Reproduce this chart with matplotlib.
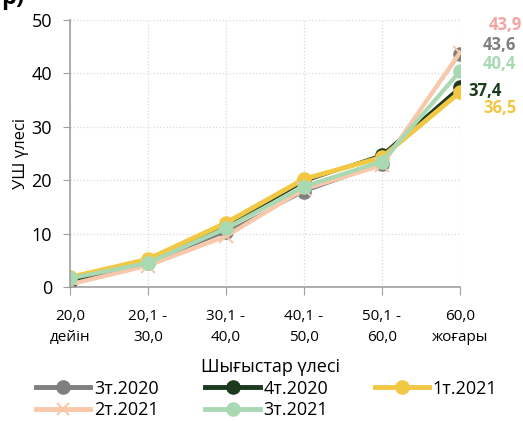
import matplotlib.pyplot as plt
from matplotlib.lines import Line2D

plt.rcParams['font.family'] = ['Open Sans', 'DejaVu Sans']

categories = ['20,0\nдейін', '20,1 -\n30,0', '30,1 -\n40,0', '40,1 -\n50,0', '50,1 -\n60,0', '60,0\nжоғары']
s_3q2020 = [1.0, 4.5, 10.3, 17.8, 23.0, 43.6]
s_4q2020 = [1.2, 5.0, 11.5, 19.8, 24.7, 37.4]
s_1q2021 = [1.8, 5.2, 12.0, 20.2, 24.3, 36.5]
s_2q2021 = [0.5, 4.0, 9.5, 18.3, 22.8, 43.9]
s_3q2021 = [1.6, 4.5, 11.0, 18.8, 23.5, 40.4]
names = ['3т.2020', '4т.2020', '1т.2021', '2т.2021', '3т.2021']
last_labels = ['43,6', '37,4', '36,5', '43,9', '40,4']

fig = plt.figure(figsize=(5.23, 4.21), dpi=100)
ax = fig.add_axes([0.1338, 0.3183, 0.7457, 0.6342])

x = list(range(len(categories)))
series = [s_3q2020, s_4q2020, s_1q2021, s_2q2021, s_3q2021]
colors = ['#7f7f7f', '#1b3a1e', '#f2c744', '#f9c8aa', '#a9d9b2']
markers = ['o', 'o', 'o', 'x', 'o']
widths = [1.8, 2.5, 3.5, 3.0, 3.0]

for vals, c, m, lw, name in zip(series, colors, markers, widths, names):
    ax.plot(x, vals, color=c, lw=lw, marker=m, markersize=9 if m == 'o' else 10,
            markeredgewidth=1.5, label=name, solid_joinstyle='round')

# end labels
label_cols = ['#7f7f7f', '#1b3a1e', '#f2c744', '#f4a3a0', '#a9d9b2']
label_y = [45.3, 36.7, 33.5, 49.0, 41.8]
label_x = [5.51, 5.32, 5.51, 5.58, 5.51]
for t, c, yy, xx in zip(last_labels, label_cols, label_y, label_x):
    ax.text(xx, yy, t, color=c, fontsize=12, fontweight='bold', ha='center', va='center',
            clip_on=False)

ax.set_xlim(0, 5)
ax.set_ylim(0, 50)
ax.set_yticks([0, 10, 20, 30, 40, 50])
ax.set_xticks(x)
ax.set_xticklabels(categories, fontsize=11, linespacing=1.5)
ax.tick_params(axis='y', labelsize=13, length=5, color='#a0a0a0', pad=8)
ax.tick_params(axis='x', length=6, color='#a0a0a0', pad=10)
ax.grid(True, color='#d9d9d9', linestyle=':', linewidth=0.9)
ax.set_axisbelow(True)
for side in ['top', 'right']:
    ax.spines[side].set_visible(False)
for side in ['left', 'bottom']:
    ax.spines[side].set_color('#a0a0a0')
    ax.spines[side].set_linewidth(1.2)

ax.set_ylabel('УШ үлесі', fontsize=12, labelpad=2)
fig.text(0.517, 0.128, 'Шығыстар үлесі', fontsize=13, ha='center', va='center')

# cut-off title fragment
fig.text(0.002, 1.005, 'р)', fontsize=17, fontweight='bold', va='center')

# legend filled row by row like the reference
order = [0, 3, 1, 4, 2]
handles = [Line2D([0], [0], color=colors[i], lw=3.5, marker=markers[i],
                  markersize=9, markeredgewidth=1.5) for i in order]
labels = [names[i] for i in order]
fig.legend(handles, labels, loc='center', bbox_to_anchor=(0.51, 0.051), ncol=3,
           frameon=False, fontsize=13, handlelength=3.0, handletextpad=0.2,
           columnspacing=2.6, labelspacing=0.2, borderpad=0)

fig.savefig('out.png', dpi=100)
